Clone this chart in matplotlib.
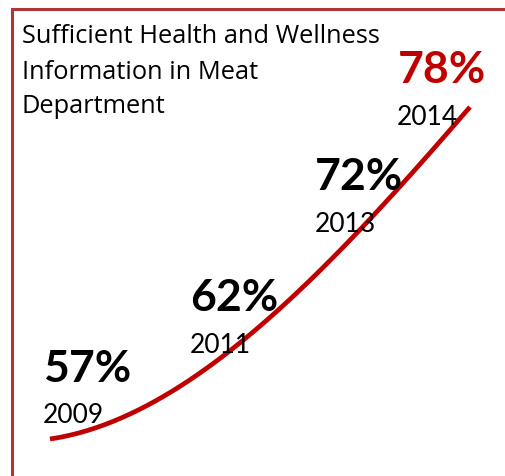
import numpy as np
import matplotlib.pyplot as plt
from matplotlib.lines import Line2D

# Share of shoppers saying the meat department has enough health/wellness info
years = [2009, 2011, 2013, 2014]
values = [57, 62, 72, 78]
pct_labels = ["57%", "62%", "72%", "78%"]
year_labels = ["2009", "2011", "2013", "2014"]
title_lines = ["Sufficient Health and Wellness", "Information in Meat", "Department"]

# label offsets from each point, in pixels (percent, year)
pct_offsets = [(-7, 58), (-28, 50), (-71, 13), (-72, 25)]
year_offsets = [(-7, 17), (-28, 8), (-71, -29), (-73, -17)]
pct_colors = ["black", "black", "black", "#c00000"]

plt.rcParams["font.family"] = ["Lato", "DejaVu Sans"]

W, H = 505, 477
fig = plt.figure(figsize=(W / 100, H / 100), dpi=100)
ax = fig.add_axes([0, 0, 1, 1])
ax.set_xlim(2008.405, 2014.417)
ax.set_ylim(54.66, 84.83)
ax.axis("off")

# smooth curve through the four readings
t = np.array(years) - years[0]
coef = np.polyfit(t, values, 3)
tt = np.linspace(0, t[-1], 200)
ax.plot(tt + years[0], np.polyval(coef, tt), color="#c00000", lw=3.4,
        solid_capstyle="butt")

for i in range(len(years)):
    ax.annotate(pct_labels[i], (years[i], values[i]), xytext=pct_offsets[i],
                textcoords="offset pixels", ha="left", va="baseline",
                fontsize=32, fontweight="bold", color=pct_colors[i])
    ax.annotate(year_labels[i], (years[i], values[i]), xytext=year_offsets[i],
                textcoords="offset pixels", ha="left", va="baseline",
                fontsize=19, color="black")

# title, one line at a time (baselines in pixels from the top)
for line, base in zip(title_lines, [43, 79, 113]):
    fig.text(22 / W, 1 - base / H, line, ha="left", va="baseline",
             fontsize=18.3, family=["Open Sans", "DejaVu Sans"])

# frame along the left and top edges
frame = "#b03535"
fig.add_artist(Line2D([12 / W, 12 / W], [0, 1 - 10 / H], color=frame, lw=2.2))
fig.add_artist(Line2D([12 / W, 1], [1 - 10 / H, 1 - 10 / H], color=frame, lw=2.2))

fig.savefig("out.png", dpi=100)
